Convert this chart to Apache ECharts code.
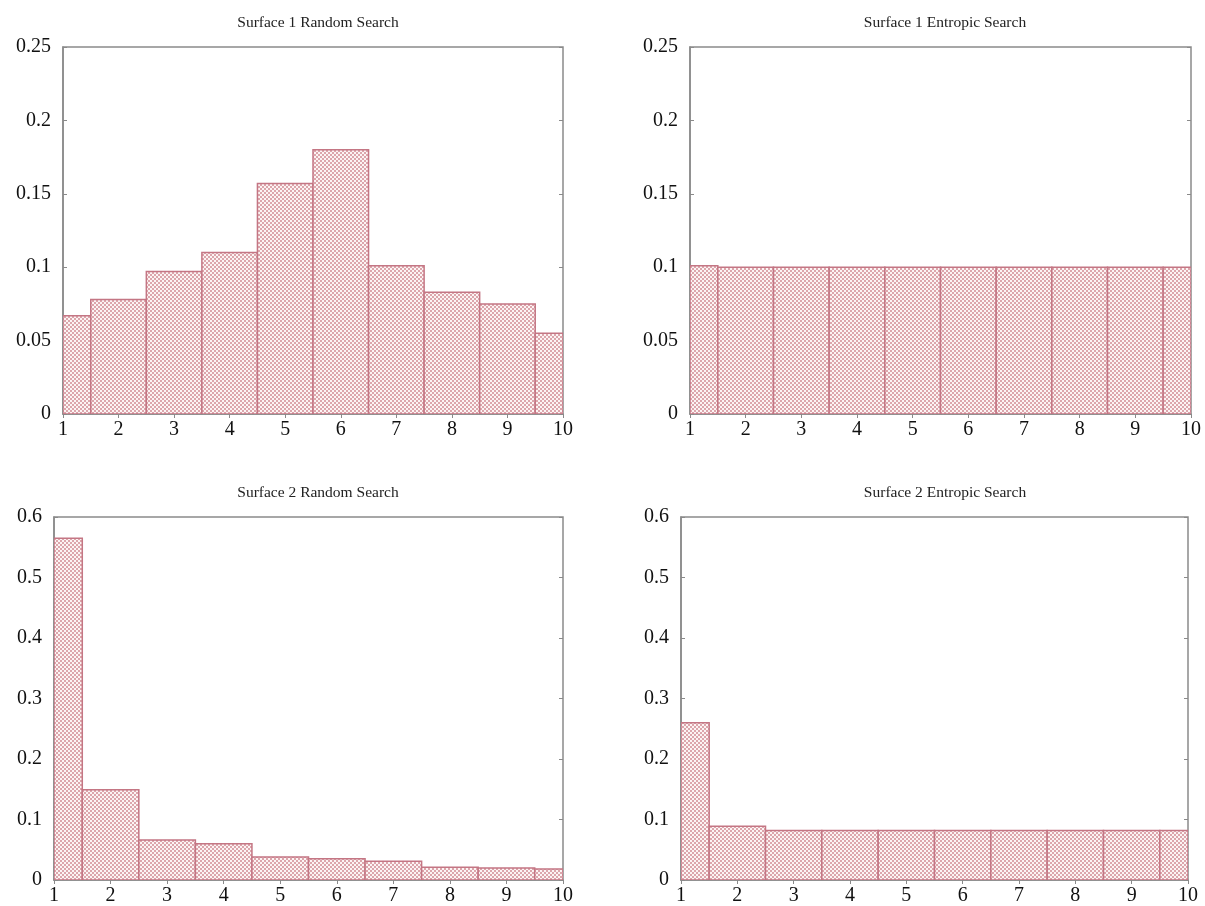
<!DOCTYPE html>
<html>
<head>
<meta charset="utf-8">
<script src="https://cdn.jsdelivr.net/npm/echarts@6/dist/echarts.min.js"></script>
<style>
html,body{margin:0;padding:0;background:#fff;}
#chart{width:1205px;height:906px;}
</style>
</head>
<body>
<div id="chart"></div>
<script>
// ---- data ----
const categories = [1, 2, 3, 4, 5, 6, 7, 8, 9, 10];
const titles = ['Surface 1 Random Search', 'Surface 1 Entropic Search', 'Surface 2 Random Search', 'Surface 2 Entropic Search'];
const surface1Random = [0.067, 0.078, 0.097, 0.110, 0.157, 0.180, 0.101, 0.083, 0.075, 0.055];
const surface1Entropic = [0.101, 0.100, 0.100, 0.100, 0.100, 0.100, 0.100, 0.100, 0.100, 0.100];
const surface2Random = [0.565, 0.149, 0.066, 0.060, 0.038, 0.035, 0.031, 0.021, 0.020, 0.018];
const surface2Entropic = [0.260, 0.089, 0.082, 0.082, 0.082, 0.082, 0.082, 0.082, 0.082, 0.082];
const yMax = [0.25, 0.25, 0.6, 0.6];
const yStep = [0.05, 0.05, 0.1, 0.1];

// ---- pattern fill (checkered) ----
const pc = document.createElement('canvas');
pc.width = 4; pc.height = 4;
const g = pc.getContext('2d');
g.fillStyle = '#fcf4f4'; g.fillRect(0, 0, 4, 4);
g.fillStyle = '#dca6ac';
g.fillRect(0, 0, 2, 2); g.fillRect(2, 2, 2, 2);
const pattern = { image: pc, repeat: 'repeat' };

const seriesData = [surface1Random, surface1Entropic, surface2Random, surface2Entropic];
const grids = [
  { left: 63, top: 47, width: 500, height: 367 },
  { left: 690, top: 47, width: 501, height: 367 },
  { left: 54, top: 517, width: 509, height: 366 },
  { left: 681, top: 517, width: 507, height: 366 }
];
const titlePos = [
  { left: 313, top: 10 }, { left: 940, top: 10 },
  { left: 313, top: 480 }, { left: 940, top: 480 }
];

const font = 'Liberation Serif';
const axisColor = '#8a8a8a';

const option = {
  backgroundColor: '#fff',
  animation: false,
  title: titles.map((t, i) => ({
    text: t, left: titlePos[i].left, top: titlePos[i].top, textAlign: 'center',
    textStyle: { fontFamily: font, fontSize: 15.5, fontWeight: 'normal', color: '#222' }
  })),
  grid: grids.map(gd => Object.assign({ show: true, borderColor: axisColor, borderWidth: 1.5, backgroundColor: 'transparent' }, gd)),
  xAxis: [],
  yAxis: [],
  series: []
};

for (let i = 0; i < 4; i++) {
  option.xAxis.push({
    type: 'value', gridIndex: i, min: 1, max: 10, interval: 1, position: 'bottom',
    axisLine: { show: true, lineStyle: { color: axisColor, width: 1.5 } },
    axisTick: { show: false },
    splitLine: { show: false },
    axisLabel: { fontFamily: font, fontSize: 20, color: '#111', margin: 6 }
  });
  option.xAxis.push({
    type: 'value', gridIndex: i, min: 1, max: 10, interval: 1, position: 'top',
    axisLine: { show: false },
    axisTick: { show: true, inside: true, length: 4, lineStyle: { color: axisColor } },
    splitLine: { show: false },
    axisLabel: { show: false }
  });
  option.yAxis.push({
    type: 'value', gridIndex: i, min: 0, max: yMax[i], interval: yStep[i], position: 'left',
    axisLine: { show: true, lineStyle: { color: axisColor, width: 1.5 } },
    axisTick: { show: true, inside: true, length: 4, lineStyle: { color: axisColor } },
    splitLine: { show: false },
    axisLabel: { fontFamily: font, fontSize: 20, color: '#111', margin: 12 }
  });
  option.yAxis.push({
    type: 'value', gridIndex: i, min: 0, max: yMax[i], interval: yStep[i], position: 'right',
    axisLine: { show: false },
    axisTick: { show: true, inside: true, length: 4, lineStyle: { color: axisColor } },
    splitLine: { show: false },
    axisLabel: { show: false }
  });
  option.series.push({
    type: 'custom',
    xAxisIndex: i * 2, yAxisIndex: i * 2,
    clip: true,
    z: 1,
    data: categories.map((c, k) => [c, seriesData[i][k]]),
    renderItem: function (params, api) {
      const x = api.value(0), y = api.value(1);
      const p0 = api.coord([x - 0.5, y]);
      const p1 = api.coord([x + 0.5, 0]);
      const cs = params.coordSys;
      const shape = echarts.graphic.clipRectByRect(
        { x: p0[0], y: p0[1], width: p1[0] - p0[0], height: p1[1] - p0[1] },
        { x: cs.x, y: cs.y, width: cs.width, height: cs.height }
      );
      if (!shape) return;
      return {
        type: 'rect', shape: shape,
        style: { fill: pattern, stroke: '#c47684', lineWidth: 1.5 }
      };
    }
  });
}

const chart = echarts.init(document.getElementById('chart'), null, { renderer: 'canvas' });
chart.setOption(option);
</script>
</body>
</html>
